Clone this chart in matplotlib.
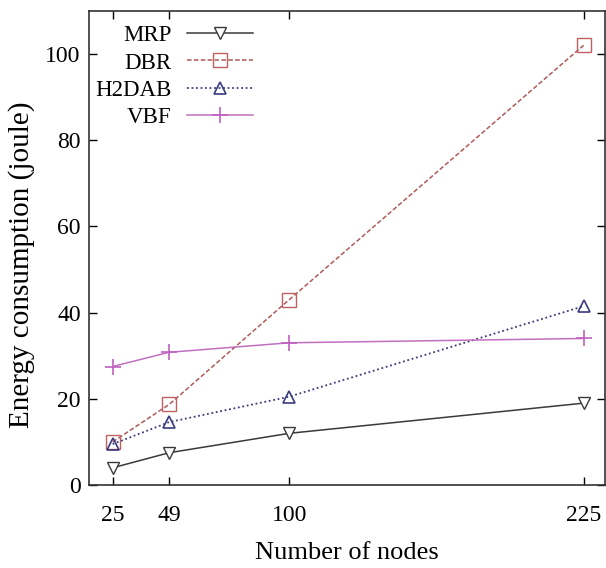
import matplotlib.pyplot as plt

nodes = [25, 49, 100, 225]
mrp = [4.0, 7.5, 12.0, 19.0]
dbr = [10.0, 18.7, 43.0, 102.0]
h2dab = [9.5, 14.6, 20.5, 41.5]
vbf = [27.5, 30.8, 33.0, 34.0]

plt.rcParams["font.family"] = "Liberation Serif"
plt.rcParams["font.size"] = 17

fig = plt.figure(figsize=(6.06, 5.68), dpi=100)
ax = fig.add_axes([0.147, 0.146, 0.851, 0.835])

ax.plot(nodes, mrp, color="#3a3a3a", lw=1.1, ls="-", marker="v", ms=9,
        mfc="white", mec="#3a3a3a", mew=1.0, label="MRP")
ax.plot(nodes, dbr, color="#b05a5a", lw=1.1, ls=(0, (3, 1.5)), marker="s", ms=10,
        mfc="none", mec="#c06060", mew=1.0, label="DBR")
ax.plot(nodes, h2dab, color="#3b3b80", lw=1.3, ls=(0, (1, 1.5)), marker="^", ms=9,
        mfc="none", mec="#3b3b80", mew=1.2, label="H2DAB")
ax.plot(nodes, vbf, color="#c070c0", lw=1.1, ls="-", marker="+", ms=12,
        mec="#c060c0", mew=1.2, label="VBF")

ax.set_xlim(15, 234)
ax.set_ylim(0, 110)
ax.set_xticks(nodes)
ax.set_yticks([0, 20, 40, 60, 80, 100])
ax.tick_params(direction="in", length=6, width=1, top=True, right=True, labelsize=17)
ax.tick_params(axis="x", pad=14)
ax.tick_params(axis="y", pad=6)
for s in ax.spines.values():
    s.set_linewidth(1.2)
    s.set_color("#333333")

ax.set_xlabel("Number of nodes", fontsize=19, labelpad=12)
ax.set_ylabel("Energy consumption (joule)", fontsize=21)
ax.yaxis.set_label_coords(-0.105, 0.464)

# gnuplot-style key: labels first, samples on the right
ax.legend(loc="upper left", bbox_to_anchor=(0.012, 0.97), frameon=False, markerfirst=False,
          handlelength=2.9, handletextpad=0.65, labelspacing=0.28, borderaxespad=0,
          borderpad=0, fontsize=16.5)

fig.savefig("out.png", dpi=100)
